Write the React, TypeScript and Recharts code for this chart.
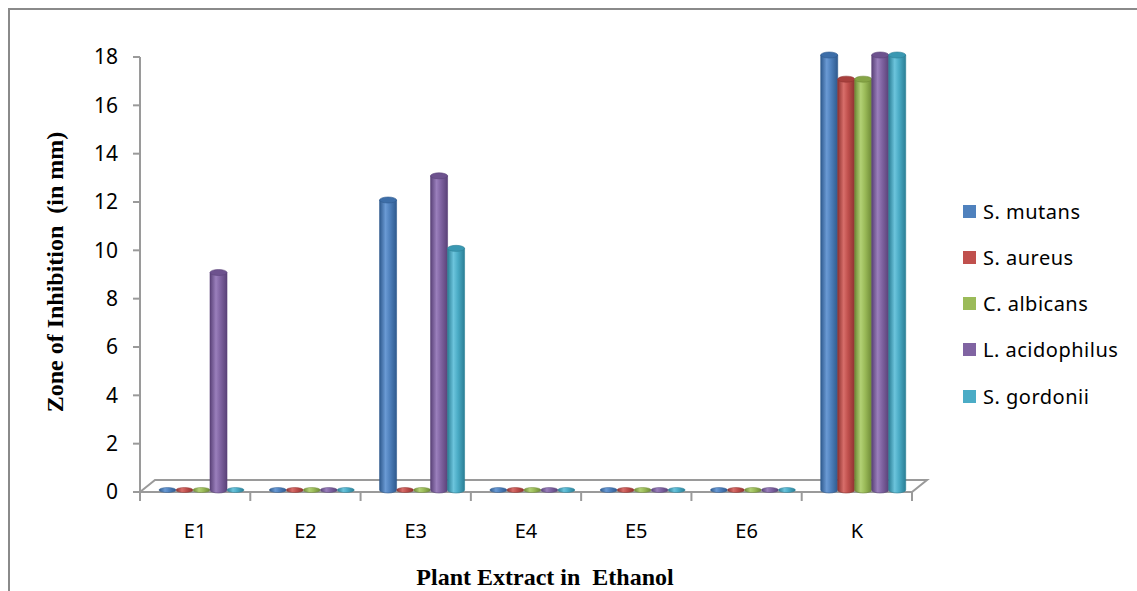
import { BarChart, Bar, XAxis, YAxis } from 'recharts'

const categories = ['E1', 'E2', 'E3', 'E4', 'E5', 'E6', 'K']
const seriesNames = ['S. mutans', 'S. aureus', 'C. albicans', 'L. acidophilus', 'S. gordonii']
const sMutans = [0, 0, 12, 0, 0, 0, 18]
const sAureus = [0, 0, 0, 0, 0, 0, 17]
const cAlbicans = [0, 0, 0, 0, 0, 0, 17]
const lAcidophilus = [9, 0, 13, 0, 0, 0, 18]
const sGordonii = [0, 0, 10, 0, 0, 0, 18]
const yTicks = [0, 2, 4, 6, 8, 10, 12, 14, 16, 18]

const seriesValues = [sMutans, sAureus, cAlbicans, lAcidophilus, sGordonii]
const keys = ['s0', 's1', 's2', 's3', 's4']

// excel 2007 palette: base, dark edge, highlight, top cap
const colors = [
  { base: '#4F81BD', dark: '#2f5a8e', light: '#6a9ad4', cap: '#3d6ea8' },
  { base: '#C0504D', dark: '#8e3230', light: '#d86e6a', cap: '#a8403d' },
  { base: '#9BBB59', dark: '#6e8a36', light: '#b2d175', cap: '#86a546' },
  { base: '#8064A2', dark: '#5a4278', light: '#9a7fbc', cap: '#6d528e' },
  { base: '#4BACC6', dark: '#2b7f96', light: '#6cc4dc', cap: '#3a98b2' },
]

const W = 1137
const H = 591
const PLOT_LEFT = 140
const PLOT_RIGHT = 912
const PLOT_TOP = 57
const PLOT_BOTTOM = 492
const DX = 6
const DY = -2
const AXIS = '#9a9a9a'
const FONT = '"Noto Sans", "Open Sans", sans-serif'
const TITLE_FONT = '"Liberation Serif", "Times New Roman", serif'

const data = categories.map((c, i) => {
  const row: Record<string, string | number> = { name: c }
  keys.forEach((k, s) => {
    row[k] = seriesValues[s][i]
  })
  return row
})

function Cylinder(props: any) {
  const { x, y, width, height, s } = props
  const c = colors[s]
  const left = x + DX
  const rx = width / 2
  const cx = left + rx
  const bottom = y + height + DY
  const top = y + DY
  if (!height || height < 1) {
    return (
      <ellipse cx={cx} cy={bottom} rx={rx} ry={2.5} fill={`url(#cyl${s})`} stroke={c.dark} strokeWidth={0.5} />
    )
  }
  const ry = 3
  return (
    <g>
      <path
        d={`M${left},${top} L${left},${bottom} A${rx},${ry} 0 0 0 ${left + width},${bottom} L${left + width},${top} Z`}
        fill={`url(#cyl${s})`}
        stroke={c.dark}
        strokeWidth={0.6}
      />
      <ellipse cx={cx} cy={top} rx={rx} ry={ry} fill={c.cap} stroke={c.dark} strokeWidth={0.6} />
    </g>
  )
}

// category label at the centre, tick marks on the category boundaries
function CatTick(props: any) {
  const { x, y, payload, index } = props
  const half = payload && payload.offset ? payload.offset : (PLOT_RIGHT - PLOT_LEFT) / categories.length / 2
  const axisY = PLOT_BOTTOM
  return (
    <g>
      <line x1={x - half} y1={axisY} x2={x - half} y2={axisY + 9} stroke={AXIS} strokeWidth={2} />
      {index === categories.length - 1 && (
        <line x1={x + half} y1={axisY} x2={x + half} y2={axisY + 9} stroke={AXIS} strokeWidth={2} />
      )}
      <text x={x} y={y} dy="0.71em" textAnchor="middle" fill="#000" fontSize={20} fontFamily={FONT}>
        {payload.value}
      </text>
    </g>
  )
}

export default function App() {
  return (
    <div style={{ position: 'fixed', left: 0, top: 0, width: W, height: H, background: '#fff', overflow: 'hidden' }}>
      <svg width={W} height={H} style={{ position: 'absolute', left: 0, top: 0 }}>
        <defs>
          {colors.map((c, i) => (
            <linearGradient key={i} id={`cyl${i}`} x1="0" y1="0" x2="1" y2="0">
              <stop offset="0%" stopColor={c.dark} />
              <stop offset="35%" stopColor={c.light} />
              <stop offset="60%" stopColor={c.base} />
              <stop offset="100%" stopColor={c.dark} />
            </linearGradient>
          ))}
        </defs>
        {/* frame */}
        <path d={`M9,${H} L9,9 L${W},9`} fill="none" stroke="#8a8a8a" strokeWidth={2} />
        {/* 3d floor */}
        <path
          d={`M${PLOT_LEFT},${PLOT_BOTTOM} L${PLOT_LEFT + 15},${PLOT_BOTTOM - 12} L${PLOT_RIGHT + 15},${PLOT_BOTTOM - 12} L${PLOT_RIGHT},${PLOT_BOTTOM} Z`}
          fill="#fff"
          stroke={AXIS}
          strokeWidth={2}
        />
        <text
          x={57}
          y={272}
          transform="rotate(-90 57 272)"
          textAnchor="middle"
          dominantBaseline="middle"
          fontFamily={TITLE_FONT}
          fontWeight="bold"
          fontSize={24}
          xmlSpace="preserve"
        >
          Zone of Inhibition  (in mm)
        </text>
        <text
          x={545}
          y={585}
          textAnchor="middle"
          fontFamily={TITLE_FONT}
          fontWeight="bold"
          fontSize={24}
          xmlSpace="preserve"
        >
          Plant Extract in  Ethanol
        </text>
      </svg>

      <div style={{ position: 'absolute', left: 0, top: 0 }}>
        <BarChart
          width={W}
          height={H}
          data={data}
          margin={{ top: PLOT_TOP, right: W - PLOT_RIGHT, bottom: 0, left: PLOT_LEFT - 60 }}
          barGap={0}
          barSize={17}
        >
          <XAxis
            dataKey="name"
            height={H - PLOT_BOTTOM}
            axisLine={false}
            tickLine={false}
            tickSize={8}
            tickMargin={24}
            tick={<CatTick />}
          />
          <YAxis
            domain={[0, 18]}
            ticks={yTicks}
            width={60}
            tickSize={7}
            tickMargin={15}
            axisLine={{ stroke: AXIS, strokeWidth: 2 }}
            tickLine={{ stroke: AXIS, strokeWidth: 2 }}
            tick={{ fill: '#000', fontSize: 21, fontFamily: FONT }}
          />
          {keys.map((k, s) => (
            <Bar
              key={k}
              dataKey={k}
              name={seriesNames[s]}
              fill={colors[s].base}
              isAnimationActive={false}
              shape={(p: any) => <Cylinder {...p} s={s} />}
            />
          ))}
        </BarChart>
      </div>

      <div style={{ position: 'absolute', left: 963, top: 0 }}>
        {seriesNames.map((n, i) => (
          <div
            key={n}
            style={{
              position: 'absolute',
              top: 211 + i * 46.3 - 14,
              left: 0,
              height: 28,
              display: 'flex',
              alignItems: 'center',
              whiteSpace: 'nowrap',
              fontFamily: FONT,
              fontSize: 20,
              letterSpacing: 0.5,
              color: '#000',
            }}
          >
            <span style={{ display: 'inline-block', width: 13, height: 13, background: colors[i].base, marginRight: 7 }} />
            {n}
          </div>
        ))}
      </div>
    </div>
  )
}
